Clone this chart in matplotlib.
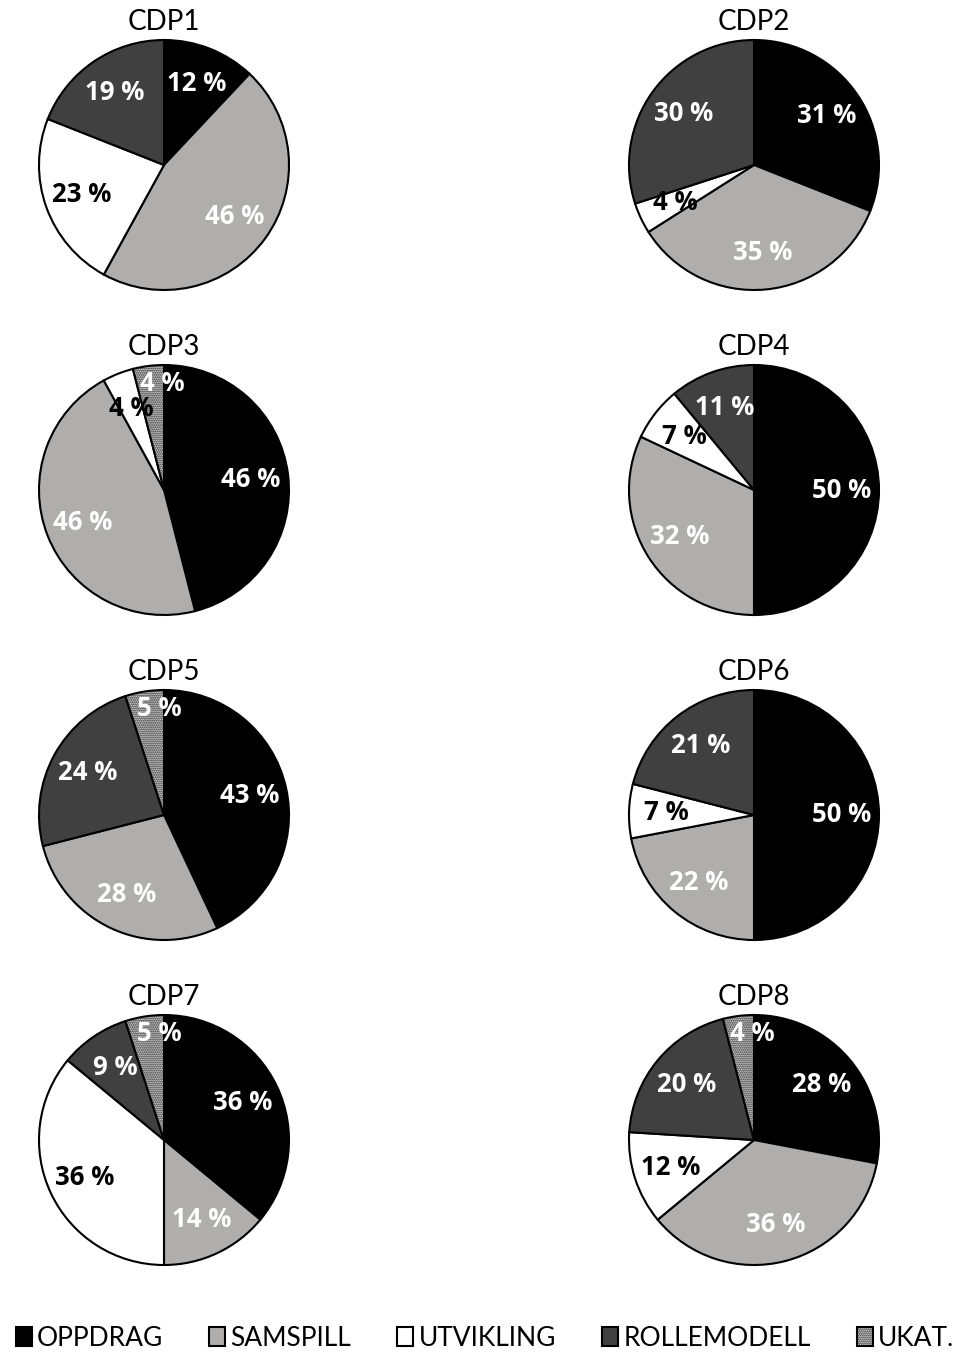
import numpy as np
import matplotlib.pyplot as plt
from matplotlib.patches import Patch

categories = ['OPPDRAG', 'SAMSPILL', 'UTVIKLING', 'ROLLEMODELL', 'UKAT.']
titles = ['CDP1', 'CDP2', 'CDP3', 'CDP4', 'CDP5', 'CDP6', 'CDP7', 'CDP8']

cdp1 = [12, 46, 23, 19, 0]
cdp2 = [31, 35, 4, 30, 0]
cdp3 = [46, 46, 4, 0, 4]
cdp4 = [50, 32, 7, 11, 0]
cdp5 = [43, 28, 0, 24, 5]
cdp6 = [50, 22, 7, 21, 0]
cdp7 = [36, 14, 36, 9, 5]
cdp8 = [28, 36, 12, 20, 4]
values = [cdp1, cdp2, cdp3, cdp4, cdp5, cdp6, cdp7, cdp8]

colors = ['#000000', '#b0adad', '#ffffff', '#404040', '#ffffff']
text_colors = ['white', 'white', 'black', 'white', 'white']
hatches = [None, None, None, None, '........']

plt.rcParams['font.family'] = ['Lato', 'DejaVu Sans']
plt.rcParams['hatch.linewidth'] = 1.0

W, H = 966, 1354
fig = plt.figure(figsize=(W / 100, H / 100), dpi=100)

centers_x = [164, 754]
centers_y = [165, 490, 815, 1140]
R = 125
pad = 1.04

for i, vals in enumerate(values):
    cx = centers_x[i % 2]
    cy = centers_y[i // 2]
    half = R * pad
    ax = fig.add_axes([(cx - half) / W, 1 - (cy + half) / H, 2 * half / W, 2 * half / H])
    idx = [k for k, v in enumerate(vals) if v > 0]
    wedges, _ = ax.pie([vals[k] for k in idx], colors=[colors[k] for k in idx],
                       startangle=90, counterclock=False, radius=1,
                       wedgeprops=dict(edgecolor='black', linewidth=1.5))
    theta = 90.0
    total = sum(vals)
    for w, k in zip(wedges, idx):
        if hatches[k]:
            w.set_hatch(hatches[k])
        span = vals[k] / total * 360
        mid = np.deg2rad(theta - span / 2)
        theta -= span
        # small UKAT slices: label sits near the rim, pushed toward the top
        if k == 4:
            x, y = 0.84 * np.cos(mid) + 0.09, 0.86 * np.sin(mid)
        else:
            x, y = 0.7 * np.cos(mid), 0.7 * np.sin(mid)
        ax.text(x, y, f'{vals[k]} %', ha='center', va='center',
                fontsize=18.5, fontweight='bold', family='Open Sans',
                color=text_colors[k])
    ax.set_xlim(-pad, pad)
    ax.set_ylim(-pad, pad)
    ax.set_aspect('equal')
    ax.axis('off')
    fig.text(cx / W, 1 - (cy - R - 18) / H, titles[i], ha='center', va='center',
             fontsize=20)

handles = [Patch(facecolor=colors[k], edgecolor='black', linewidth=1.5,
                 hatch=hatches[k]) for k in range(5)]
fig.legend(handles, categories, loc='center', ncol=5,
           bbox_to_anchor=(0.502, 1 - 1338 / H), frameon=False, fontsize=19,
           handlelength=0.6, handleheight=0.75, handletextpad=0.2,
           columnspacing=1.75)

fig.savefig('out.png', dpi=100)
